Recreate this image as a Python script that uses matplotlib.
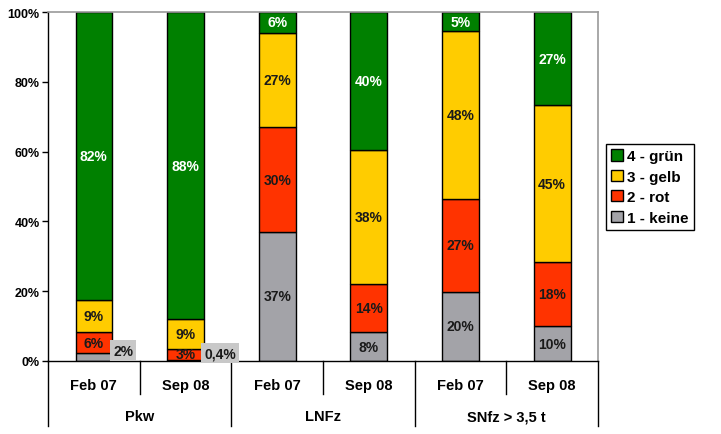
import numpy as np
import matplotlib.pyplot as plt
from matplotlib.lines import Line2D
from matplotlib.patches import Patch

plt.rcParams['font.family'] = ['Liberation Sans', 'DejaVu Sans']

# data
periods = ["Feb 07", "Sep 08", "Feb 07", "Sep 08", "Feb 07", "Sep 08"]
groups = ["Pkw", "LNFz", "SNfz > 3,5 t"]
keine = [2.3, 0.4, 37, 8.3, 19.8, 10]
rot = [6.0, 3.0, 30, 13.7, 26.7, 18.4]
gelb = [9.3, 8.6, 27, 38.6, 48, 44.9]
gruen = [82.4, 88.0, 6, 39.4, 5.5, 26.7]
lab_keine = ["2%", "0,4%", "37%", "8%", "20%", "10%"]
lab_rot = ["6%", "3%", "30%", "14%", "27%", "18%"]
lab_gelb = ["9%", "9%", "27%", "38%", "48%", "45%"]
lab_gruen = ["82%", "88%", "6%", "40%", "5%", "27%"]

series = [
    ("1 - keine", keine, lab_keine, "#A3A3A8", "#1a1a1a"),
    ("2 - rot", rot, lab_rot, "#FF3300", "#1a1a1a"),
    ("3 - gelb", gelb, lab_gelb, "#FFCC00", "#1a1a1a"),
    ("4 - grün", gruen, lab_gruen, "#008000", "white"),
]

fig = plt.figure(figsize=(7.21, 4.35), dpi=100)
ax = fig.add_axes([48/721, 1-362/435, 550/721, 349/435])

x = np.arange(len(periods))
bottom = np.zeros(len(periods))
for name, vals, labs, col, tcol in series:
    vals = np.array(vals)
    ax.bar(x, vals, 0.4, bottom=bottom, color=col, edgecolor="black", linewidth=1, label=name)
    for i in range(len(x)):
        if vals[i] < 3 and name == "1 - keine":
            # small values labelled beside the bar
            ax.text(x[i] + 0.32 + (0.06 if i == 1 else 0), 3.0 - 0.8 * i, labs[i], ha="center", va="center",
                    fontsize=10, fontweight="bold", color="#1a1a1a",
                    bbox=dict(facecolor="#C8C8C8", edgecolor="none", pad=2.2))
        else:
            ax.text(x[i], bottom[i] + vals[i] / 2, labs[i], ha="center", va="center",
                    fontsize=10, fontweight="bold", color=tcol)
    bottom += vals

ax.set_xlim(-0.5, 5.5)
ax.set_ylim(0, 100)
ax.set_yticks(np.arange(0, 101, 20))
ax.set_yticklabels([f"{v}%" for v in range(0, 101, 20)], fontsize=9, fontweight="bold")
ax.set_xticks([])
ax.tick_params(axis="y", length=4, width=1, pad=2)
for s in ["top", "right"]:
    ax.spines[s].set_color("#999999")
    ax.spines[s].set_linewidth(1.2)
ax.spines["left"].set_linewidth(1)
ax.spines["bottom"].set_linewidth(1)

# category axis with group levels
trans = ax.get_xaxis_transform()
for i, p in enumerate(periods):
    ax.text(x[i], -0.068, p, transform=trans, ha="center", va="center", fontsize=10.5, fontweight="bold")
for g, name in enumerate(groups):
    ax.text(2 * g + 0.5, -0.158, name, transform=trans, ha="center", va="center", fontsize=10.5, fontweight="bold")
for b in np.arange(-0.5, 6.0, 1.0):
    low = -0.186 if (b + 0.5) % 2 == 0 else -0.095
    ax.add_line(Line2D([b, b], [0, low], transform=trans, color="black", linewidth=1, clip_on=False))

handles = [Patch(facecolor=c, edgecolor="black", label=n) for n, _, _, c, _ in series[::-1]]
fig.legend(handles=handles, loc="upper left", bbox_to_anchor=(606/721, 1-145/435), borderaxespad=0,
           fancybox=False, edgecolor="black", framealpha=1, handlelength=0.75, handleheight=0.75,
           handletextpad=0.3, borderpad=0.35, labelspacing=0.42,
           prop={"size": 11, "weight": "bold"})

fig.savefig("out.png", dpi=100)
